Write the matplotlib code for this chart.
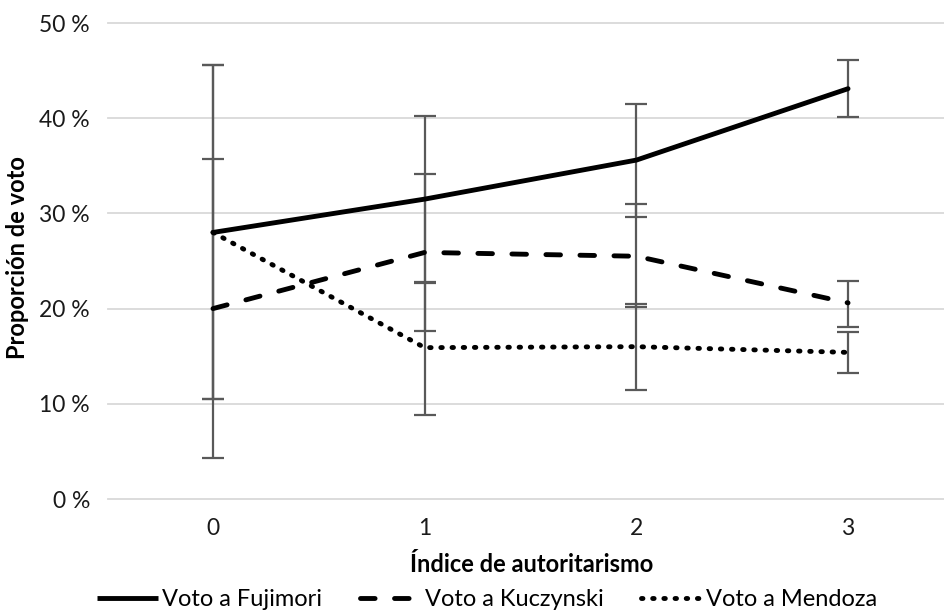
import numpy as np
import matplotlib
matplotlib.use("Agg")
import matplotlib.pyplot as plt
from matplotlib.lines import Line2D

plt.rcParams["font.family"] = ["Lato", "DejaVu Sans"]

# autoritarismo index levels
indice = [0, 1, 2, 3]
tick_labels = ["0", "1", "2", "3"]

# vote shares (%) with lower / upper confidence bounds
fujimori = [28.0, 31.5, 35.6, 43.1]
fujimori_lo = [10.5, 22.8, 29.6, 40.1]
fujimori_hi = [45.6, 40.2, 41.5, 46.1]

kuczynski = [20.0, 25.9, 25.5, 20.6]
kuczynski_lo = [4.3, 17.6, 20.2, 18.1]
kuczynski_hi = [35.7, 34.1, 31.0, 22.9]

mendoza = [28.0, 15.9, 16.0, 15.4]
mendoza_lo = [10.5, 8.8, 11.5, 13.2]
mendoza_hi = [45.6, 22.7, 20.5, 17.5]

y_ticks = [0, 10, 20, 30, 40, 50]

W, H = 945, 612
LW = 3.5
DASH = (3.0, 4.0)
DOT = (0.3, 2.0)

fig = plt.figure(figsize=(W / 100, H / 100), dpi=100)
ax = fig.add_axes([108 / W, 1 - 499 / H, 1 - 108 / W, (499 - 23) / H])

series = [
    ("Voto a Fujimori", fujimori, fujimori_lo, fujimori_hi, "solid"),
    ("Voto a Kuczynski", kuczynski, kuczynski_lo, kuczynski_hi, "dashed"),
    ("Voto a Mendoza", mendoza, mendoza_lo, mendoza_hi, "dotted"),
]


def apply_style(line, style):
    if style == "dashed":
        line.set_dashes(DASH)
    elif style == "dotted":
        line.set_dashes(DOT)


handles = []
for name, vals, lo, hi, style in series:
    v = np.array(vals) / 100
    err = [v - np.array(lo) / 100, np.array(hi) / 100 - v]
    ax.errorbar(indice, v, yerr=err, fmt="none", ecolor="#595959",
                elinewidth=1.6, capsize=8, capthick=1.6, zorder=3)
    line = ax.plot(indice, v, color="black", lw=LW, solid_capstyle="round",
                   dash_capstyle="round", zorder=4)[0]
    apply_style(line, style)
    h = Line2D([0], [0], color="black", lw=LW, solid_capstyle="butt",
               dash_capstyle="round")
    apply_style(h, style)
    handles.append((h, name))

ax.set_xlim(-0.496, 3.458)
ax.set_ylim(0, 0.5)
ax.set_yticks([t / 100 for t in y_ticks])
ax.set_yticklabels([f"{t} %" for t in y_ticks])
ax.set_xticks(indice)
ax.set_xticklabels(tick_labels)
ax.grid(axis="y", color="#d9d9d9", lw=1.3, zorder=0)
for gl in ax.get_ygridlines():
    gl.set_clip_on(False)
for s in ax.spines.values():
    s.set_visible(False)
ax.tick_params(axis="both", length=0, labelsize=16.5, colors="#1a1a1a")
ax.tick_params(axis="y", pad=13)
ax.tick_params(axis="x", pad=14)

fig.text(532 / W, 1 - 565 / H, "Índice de autoritarismo", ha="center",
         va="center", fontsize=17, fontweight="bold")
fig.text(18 / W, 1 - 258 / H, "Proporción de voto", ha="center",
         va="center", rotation=90, fontsize=17, fontweight="bold")

fig.legend([h for h, _ in handles], [n for _, n in handles],
           loc="center", bbox_to_anchor=(487 / W, 1 - 600 / H), ncol=3,
           frameon=False, fontsize=17, handlelength=2.6,
           handletextpad=0.15, columnspacing=1.6, borderaxespad=0)

fig.savefig("out.png", dpi=100)
